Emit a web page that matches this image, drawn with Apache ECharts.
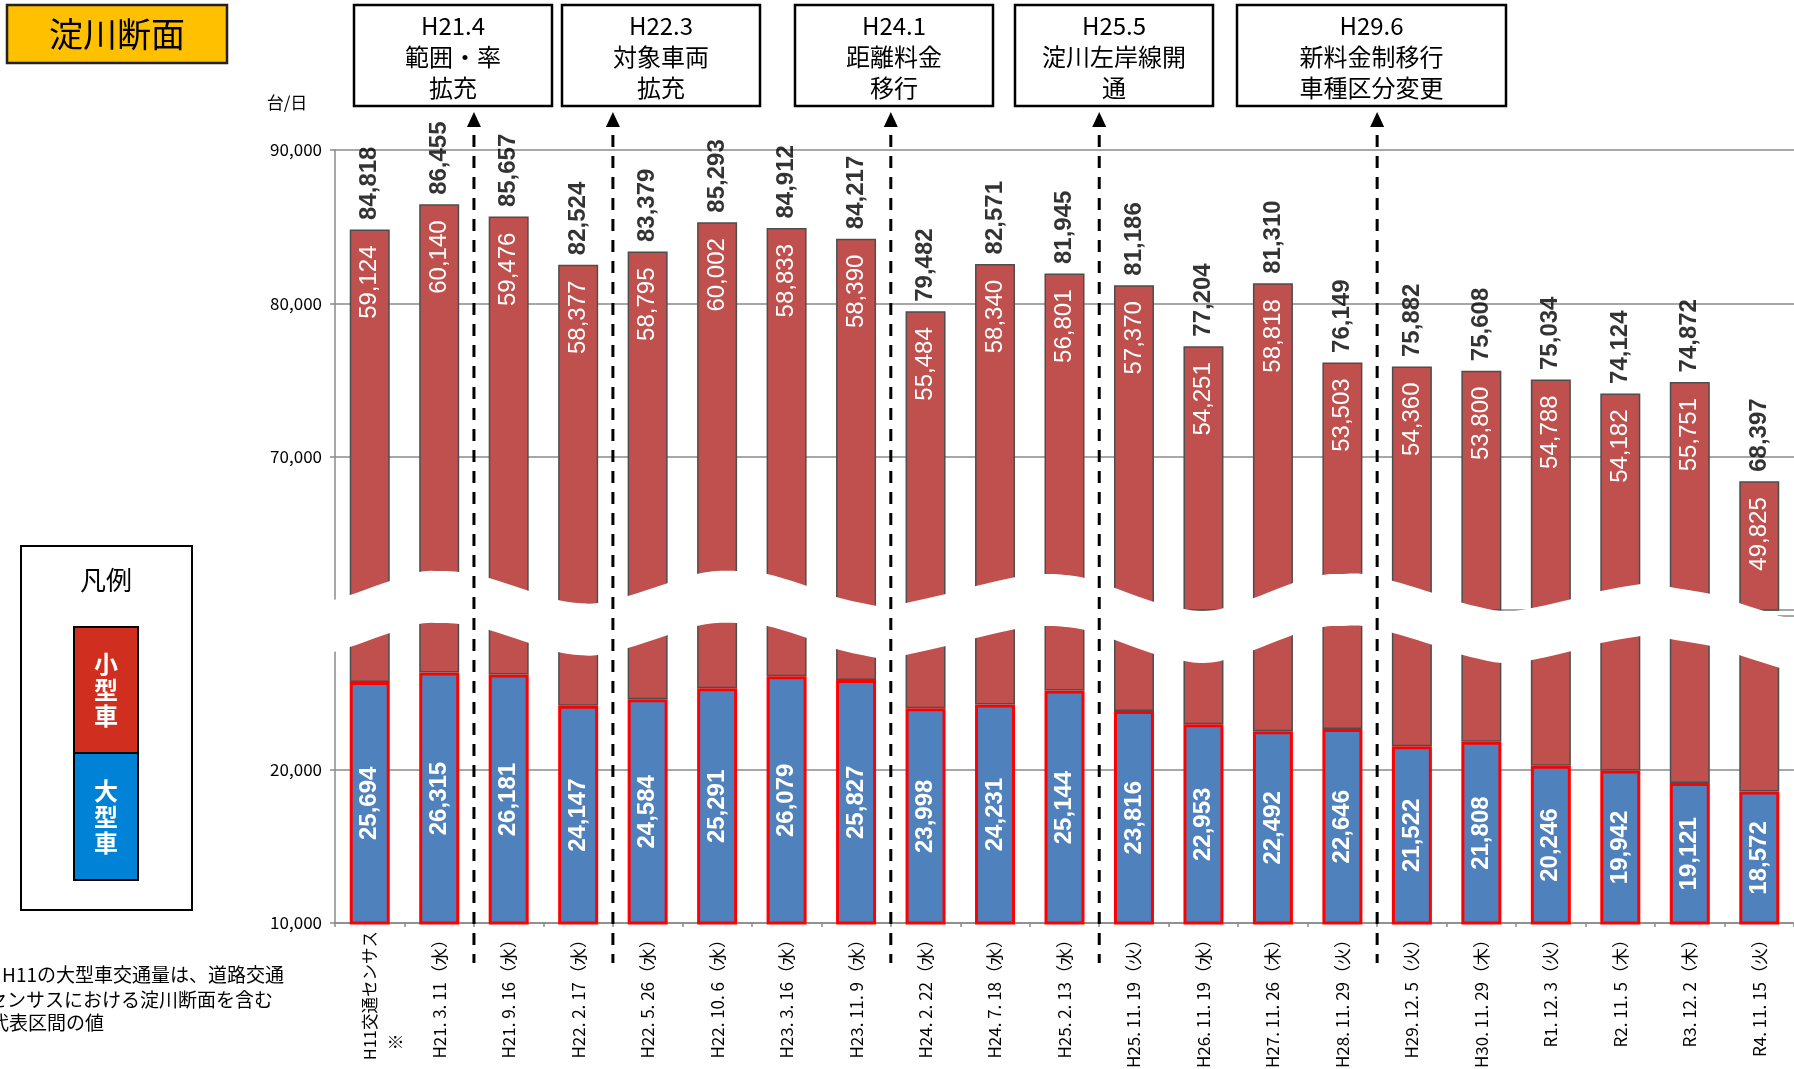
<!DOCTYPE html>
<html>
<head>
<meta charset="utf-8">
<script src="https://cdn.jsdelivr.net/npm/echarts@6.0.0/dist/echarts.min.js"></script>
<style>
html,body{margin:0;padding:0;background:#ffffff;}
#c{width:1794px;height:1069px;}
</style>
</head>
<body>
<div id="c"></div>
<script>
// ---------------- data ----------------
const categories = ['H11交通センサス※','H21.3.11（水）','H21.9.16（水）','H22.2.17（水）','H22.5.26（水）','H22.10.6（水）','H23.3.16（水）','H23.11.9（水）','H24.2.22（水）','H24.7.18（水）','H25.2.13（水）','H25.11.19（火）','H26.11.19（水）','H27.11.26（木）','H28.11.29（火）','H29.12.5（火）','H30.11.29（木）','R1.12.3（火）','R2.11.5（木）','R3.12.2（木）','R4.11.15（火）'];
const largeVehicles = [25694,26315,26181,24147,24584,25291,26079,25827,23998,24231,25144,23816,22953,22492,22646,21522,21808,20246,19942,19121,18572];
const smallVehicles = [59124,60140,59476,58377,58795,60002,58833,58390,55484,58340,56801,57370,54251,58818,53503,54360,53800,54788,54182,55751,49825];
const upperTicks = [60000,70000,80000,90000];
const lowerTicks = [10000,20000,30000];
const hiddenTicks = [30000,60000];
const eventLabels = ['H21.4\n範囲・率\n拡充','H22.3\n対象車両\n拡充','H24.1\n距離料金\n移行','H25.5\n淀川左岸線開\n通','H29.6\n新料金制移行\n車種区分変更'];
const eventAfterIndex = [1,3,7,10,14];
const seriesNames = ['大型車','小型車'];
const titleText = '淀川断面';
const unitText = '台/日';
const legendTitle = '凡例';
const noteLines = ['※H11の大型車交通量は、道路交通','センサスにおける淀川断面を含む','代表区間の値'];

const totals = largeVehicles.map((v,i)=>v+smallVehicles[i]);

// ---------------- layout / style ----------------
const RED = '#C0504D', BLUE = '#4F81BD';
const NUM_FONT = '"Liberation Sans", Arial, sans-serif';
const JP_FONT = '"Noto Sans CJK JP", sans-serif';
const fmt = v => v.toLocaleString('en-US');
const boxLayout = [[354,552],[562,760],[795,993],[1015,1213],[1237,1506]];
// wave (upper edge of the white break band), offsets from grid-left / 30,000 line
const wave = [[-5,-15],[15,-21],[55,-35],[84,-44],[104,-45],[124,-44],[154,-38],[194,-25],[223,-16],[243,-13],[263,-13],[293,-20],[333,-33],[362,-42],[382,-45],[402,-45],[432,-42],[472,-30],[501,-19],[542,-10],[556,-9],[571,-13],[611,-22],[641,-30],[681,-39],[710,-42],[730,-41],[750,-38],[780,-28],[819,-14],[849,-7],[869,-5],[889,-8],[919,-18],[958,-33],[988,-41],[1008,-42],[1028,-42],[1058,-35],[1098,-23],[1128,-13],[1167,-5],[1197,-8],[1237,-17],[1266,-25],[1306,-32],[1320,-33],[1335,-29],[1376,-22],[1404,-13],[1445,0],[1470,6]];
const BAND = 52;

const yLabelFmt = v => hiddenTicks.indexOf(v) >= 0 ? '' : fmt(v);

function xLabelFmt(v) {
  if (v.indexOf('※') >= 0) {
    const main = v.replace('※', '');
    return ' \n{h|' + main + '}\n{h|※' + '\u3000'.repeat(6) + ' }';
  }
  return v.replace(/\./g, '. ');
}

function yAxisCommon(ticks, grid) {
  return {
    type: 'value', gridIndex: grid,
    min: ticks[0], max: ticks[ticks.length-1], interval: ticks[1]-ticks[0],
    axisLine: {show: true, lineStyle: {color: '#8a8a8a', width: 1.5}},
    axisTick: {show: true, length: 5, lineStyle: {color: '#8a8a8a', width: 1.5}},
    splitLine: {show: true, lineStyle: {color: '#8a8a8a', width: 1.5}},
    axisLabel: {formatter: yLabelFmt, fontFamily: JP_FONT, fontSize: 17, color: '#000', margin: 13}
  };
}

const chart = echarts.init(document.getElementById('c'), null, {renderer: 'canvas'});

const option = {
  animation: false,
  backgroundColor: '#ffffff',
  grid: [
    {left: 335, right: 0, top: 150, bottom: 459, outerBoundsMode: 'none'},
    {left: 335, right: 0, top: 616, bottom: 146, outerBoundsMode: 'none'}
  ],
  xAxis: [
    {type: 'category', gridIndex: 0, data: categories, show: false},
    {type: 'category', gridIndex: 1, data: categories,
     axisLine: {show: true, lineStyle: {color: '#8a8a8a', width: 1.5}},
     axisTick: {show: true, length: 4, lineStyle: {color: '#8a8a8a', width: 1.5}},
     axisLabel: {interval: 0, rotate: 90, margin: 8, fontSize: 17, fontFamily: JP_FONT, color: '#000', lineHeight: 26,
       formatter: xLabelFmt,
       rich: {h: {fontSize: 16.5, fontFamily: JP_FONT, color: '#000', lineHeight: 26}}}
    }
  ],
  yAxis: [yAxisCommon(upperTicks, 0), yAxisCommon(lowerTicks, 1)],
  series: [
    {name: seriesNames[0], type: 'bar', xAxisIndex: 1, yAxisIndex: 1, stack: 'lo', barWidth: 40, data: largeVehicles,
     itemStyle: {color: BLUE, borderColor: '#FF0000', borderWidth: 3},
     label: {show: true, position: 'inside', rotate: 90, color: '#fff', fontWeight: 'bold', fontSize: 24, fontFamily: NUM_FONT, formatter: p => fmt(p.value)}},
    {name: seriesNames[1], type: 'bar', xAxisIndex: 1, yAxisIndex: 1, stack: 'lo', barWidth: 40, data: smallVehicles,
     itemStyle: {color: RED, borderColor: '#4d4d4d', borderWidth: 1.5}},
    {name: seriesNames[0], type: 'bar', xAxisIndex: 0, yAxisIndex: 0, stack: 'hi', barWidth: 40, data: largeVehicles,
     itemStyle: {color: BLUE, borderColor: '#FF0000', borderWidth: 3}},
    {name: seriesNames[1], type: 'bar', xAxisIndex: 0, yAxisIndex: 0, stack: 'hi', barWidth: 40, data: smallVehicles,
     itemStyle: {color: RED, borderColor: '#4d4d4d', borderWidth: 1.5},
     label: {show: true, position: 'insideTop', distance: 16, rotate: 90, align: 'right', verticalAlign: 'middle', color: '#fff', fontSize: 24, fontFamily: NUM_FONT, formatter: p => fmt(p.value)}},
    {name: '合計', type: 'scatter', xAxisIndex: 0, yAxisIndex: 0, data: totals, symbolSize: 1, clip: false,
     itemStyle: {color: 'rgba(0,0,0,0)'},
     label: {show: true, position: 'top', distance: 9, rotate: 90, align: 'left', verticalAlign: 'middle', color: '#000', fontWeight: 'bold', fontSize: 24, fontFamily: NUM_FONT, formatter: p => fmt(p.value)}}
  ]
};
chart.setOption(option);

// ---------------- decorations ----------------
function catmull(pts, steps) {
  const out = [];
  for (let i = 0; i < pts.length - 1; i++) {
    const p0 = pts[Math.max(i-1,0)], p1 = pts[i], p2 = pts[i+1], p3 = pts[Math.min(i+2,pts.length-1)];
    for (let s = 0; s < steps; s++) {
      const t = s/steps, t2 = t*t, t3 = t2*t;
      const f = (a,b,c,d) => 0.5*((2*b) + (-a+c)*t + (2*a-5*b+4*c-d)*t2 + (-a+3*b-3*c+d)*t3);
      out.push([f(p0[0],p1[0],p2[0],p3[0]), f(p0[1],p1[1],p2[1],p3[1])]);
    }
  }
  out.push(pts[pts.length-1]);
  return out;
}

const c0 = chart.convertToPixel({gridIndex: 1}, [0, lowerTicks[lowerTicks.length-1]]);
const c1 = chart.convertToPixel({gridIndex: 1}, [1, lowerTicks[lowerTicks.length-1]]);
const step = c1[0] - c0[0];
const gLeft = c0[0] - step/2;
const yBreak = c0[1];
const yBottom = chart.convertToPixel({gridIndex: 1}, [0, lowerTicks[0]])[1];

const smoothWave = catmull(wave, 5).map(p => [gLeft + p[0], yBreak + p[1]]);
const bandPts = smoothWave.concat(smoothWave.slice().reverse().map(p => [p[0], p[1] + BAND]));

const graphics = [];
graphics.push({type: 'polygon', z: 50, silent: true, shape: {points: bandPts}, style: {fill: '#ffffff', stroke: null}});

// title
graphics.push({type: 'rect', z: 60, shape: {x: 7, y: 5, width: 220, height: 58}, style: {fill: '#FFC000', stroke: '#222', lineWidth: 2.5}});
graphics.push({type: 'text', z: 61, x: 117, y: 34, style: {text: titleText, font: '34px ' + JP_FONT, fill: '#000', align: 'center', verticalAlign: 'middle'}});
// unit
graphics.push({type: 'text', z: 61, x: 287, y: 103, style: {text: unitText, font: '17px ' + JP_FONT, fill: '#000', align: 'center', verticalAlign: 'middle'}});

// legend
graphics.push({type: 'rect', z: 60, shape: {x: 21, y: 546, width: 171, height: 364}, style: {fill: '#fff', stroke: '#000', lineWidth: 2}});
graphics.push({type: 'text', z: 61, x: 106, y: 580, style: {text: legendTitle, font: '26px ' + JP_FONT, fill: '#000', align: 'center', verticalAlign: 'middle'}});
graphics.push({type: 'rect', z: 60, shape: {x: 74, y: 627, width: 64, height: 126}, style: {fill: '#D02E1F', stroke: '#000', lineWidth: 2}});
graphics.push({type: 'rect', z: 60, shape: {x: 74, y: 753, width: 64, height: 127}, style: {fill: '#0083D6', stroke: '#000', lineWidth: 2}});
graphics.push({type: 'text', z: 61, x: 106, y: 690, style: {text: seriesNames[1].split('').join('\n'), font: 'bold 24px ' + JP_FONT, lineHeight: 26, fill: '#fff', align: 'center', verticalAlign: 'middle'}});
graphics.push({type: 'text', z: 61, x: 106, y: 817, style: {text: seriesNames[0].split('').join('\n'), font: 'bold 24px ' + JP_FONT, lineHeight: 26, fill: '#fff', align: 'center', verticalAlign: 'middle'}});

// notes
graphics.push({type: 'text', z: 61, x: 284, y: 975, style: {text: noteLines[0], font: '19px ' + JP_FONT, fill: '#000', align: 'right', verticalAlign: 'middle'}});
graphics.push({type: 'text', z: 61, x: 273, y: 1000, style: {text: noteLines[1], font: '19px ' + JP_FONT, fill: '#000', align: 'right', verticalAlign: 'middle'}});
graphics.push({type: 'text', z: 61, x: -10, y: 1023, style: {text: noteLines[2], font: '19px ' + JP_FONT, fill: '#000', align: 'left', verticalAlign: 'middle'}});

// events
eventLabels.forEach((lab, k) => {
  const b = boxLayout[k];
  graphics.push({type: 'rect', z: 60, shape: {x: b[0], y: 5, width: b[1]-b[0], height: 101}, style: {fill: '#fff', stroke: '#000', lineWidth: 2.5}});
  graphics.push({type: 'text', z: 61, x: (b[0]+b[1])/2, y: 57, style: {text: lab, font: '24px ' + JP_FONT, lineHeight: 31, fill: '#000', align: 'center', verticalAlign: 'middle'}});
  const i = eventAfterIndex[k];
  const xa = chart.convertToPixel({gridIndex: 1}, [i, lowerTicks[0]])[0];
  const xb = chart.convertToPixel({gridIndex: 1}, [i+1, lowerTicks[0]])[0];
  const x = (xa + xb) / 2;
  graphics.push({type: 'polygon', z: 60, shape: {points: [[x,112],[x-7,127],[x+7,127]]}, style: {fill: '#000'}});
  graphics.push({type: 'line', z: 60, shape: {x1: x, y1: 135, x2: x, y2: yBottom + 40}, style: {stroke: '#000', lineWidth: 3, lineDash: [12, 9]}});
});

chart.setOption({graphic: graphics});
</script>
</body>
</html>
